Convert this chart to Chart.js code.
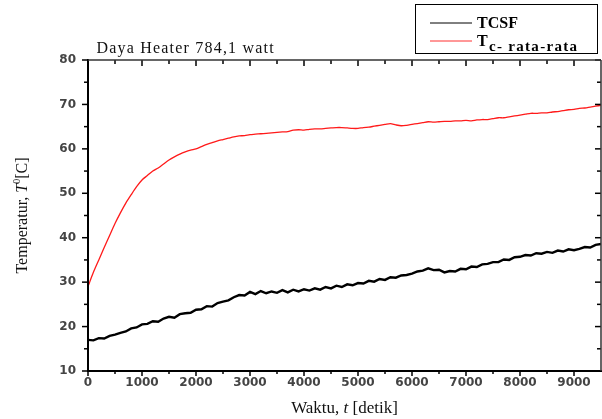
<!DOCTYPE html>
<html>
<head>
<meta charset="utf-8">
<script src="https://cdn.jsdelivr.net/npm/chart.js@4/dist/chart.umd.min.js"></script>
<style>
  html, body { margin: 0; padding: 0; background: #fff; overflow: hidden; }
  canvas { display: block; }
</style>
</head>
<body>
<canvas id="grafik" width="602" height="419"></canvas>
<script>
/* ── DATA ── */
const waktu = [
  0, 100, 200, 300, 400, 500, 600, 700, 800, 900,
  1000, 1100, 1200, 1300, 1400, 1500, 1600, 1700, 1800, 1900,
  2000, 2100, 2200, 2300, 2400, 2500, 2600, 2700, 2800, 2900,
  3000, 3100, 3200, 3300, 3400, 3500, 3600, 3700, 3800, 3900,
  4000, 4100, 4200, 4300, 4400, 4500, 4600, 4700, 4800, 4900,
  5000, 5100, 5200, 5300, 5400, 5500, 5600, 5700, 5800, 5900,
  6000, 6100, 6200, 6300, 6400, 6500, 6600, 6700, 6800, 6900,
  7000, 7100, 7200, 7300, 7400, 7500, 7600, 7700, 7800, 7900,
  8000, 8100, 8200, 8300, 8400, 8500, 8600, 8700, 8800, 8900,
  9000, 9100, 9200, 9300, 9400, 9500
];

const tcsf = [
  17.0, 16.9, 17.4, 17.3, 17.9, 18.2, 18.6, 18.9, 19.6, 19.8,
  20.5, 20.6, 21.2, 21.1, 21.8, 22.2, 22.0, 22.8, 23.0, 23.1,
  23.8, 23.9, 24.6, 24.5, 25.3, 25.6, 25.9, 26.6, 27.1, 27.0,
  27.8, 27.3, 28.0, 27.5, 27.9, 27.6, 28.2, 27.7, 28.3, 27.9,
  28.4, 28.1, 28.6, 28.3, 28.9, 28.6, 29.2, 28.9, 29.5, 29.3,
  29.8, 29.7, 30.3, 30.1, 30.7, 30.5, 31.1, 31.0, 31.5, 31.6,
  31.9, 32.4, 32.6, 33.1, 32.7, 32.8, 32.2, 32.5, 32.4, 33.0,
  32.9, 33.5, 33.4, 34.0, 34.1, 34.5, 34.5, 35.1, 35.0, 35.6,
  35.7, 36.1, 36.0, 36.5, 36.4, 36.8, 36.6, 37.1, 36.9, 37.4,
  37.2, 37.5, 37.9, 37.8, 38.4, 38.6
];

const tcRata = [
  29.0, 32.2, 35.0, 37.8, 40.5, 43.2, 45.6, 47.8, 49.7, 51.5,
  53.0, 54.0, 55.0, 55.7, 56.6, 57.5, 58.2, 58.8, 59.3, 59.7,
  60.0, 60.5, 61.0, 61.4, 61.8, 62.1, 62.4, 62.7, 62.9, 63.0,
  63.2, 63.3, 63.4, 63.5, 63.6, 63.7, 63.8, 63.9, 64.2, 64.3,
  64.2, 64.4, 64.5, 64.5, 64.6, 64.7, 64.8, 64.8, 64.7, 64.6,
  64.6, 64.8, 64.9, 65.1, 65.3, 65.5, 65.7, 65.4, 65.2, 65.3,
  65.5, 65.7, 65.9, 66.1, 66.0, 66.1, 66.2, 66.2, 66.3, 66.3,
  66.4, 66.3, 66.5, 66.6, 66.6, 66.8, 67.0, 67.0, 67.2, 67.4,
  67.6, 67.8, 68.0, 68.0, 68.1, 68.1, 68.3, 68.4, 68.6, 68.8,
  68.9, 69.1, 69.2, 69.4, 69.6, 69.8
];

const xTickUtama = [0, 1000, 2000, 3000, 4000, 5000, 6000, 7000, 8000, 9000];
const xTickKecil = [500, 1500, 2500, 3500, 4500, 5500, 6500, 7500, 8500];
const yTickUtama = [10, 20, 30, 40, 50, 60, 70, 80];
const yTickKecil = [15, 25, 35, 45, 55, 65, 75];

const judul = "Daya Heater 784,1 watt";
const labelSeri = ["TCSF", "T", "c- rata-rata"];

/* ── TEKS, BINGKAI, LEGENDA ── */
const SERIF = "'Liberation Serif', 'Times New Roman', serif";

const bingkai = {
  id: "bingkai",
  afterDraw(chart) {
    const { ctx, chartArea: a, scales: { x, y } } = chart;
    ctx.save();
    ctx.strokeStyle = "#000";
    const garis = (x1, y1, x2, y2) => {
      ctx.beginPath(); ctx.moveTo(x1, y1); ctx.lineTo(x2, y2); ctx.stroke();
    };

    // tick X (bawah keluar, atas ke dalam)
    ctx.lineWidth = 1.5;
    xTickUtama.forEach(v => {
      const px = x.getPixelForValue(v);
      garis(px, a.bottom, px, a.bottom + 5);
      garis(px, a.top, px, a.top + 6);
    });
    xTickKecil.forEach(v => {
      const px = x.getPixelForValue(v);
      garis(px, a.bottom, px, a.bottom + 3);
      garis(px, a.top, px, a.top + 4);
    });
    // tick Y (kiri keluar, kanan ke dalam)
    yTickUtama.forEach(v => {
      const py = y.getPixelForValue(v);
      garis(a.left - 6, py, a.left, py);
      garis(a.right - 6, py, a.right, py);
    });
    yTickKecil.forEach(v => {
      const py = y.getPixelForValue(v);
      garis(a.left - 4, py, a.left, py);
      garis(a.right - 4, py, a.right, py);
    });

    // garis sumbu
    ctx.lineWidth = 2;
    garis(a.left, a.top - 1, a.left, a.bottom + 1);
    garis(a.left - 1, a.bottom, a.right + 1, a.bottom);
    ctx.lineWidth = 1.5;
    ctx.strokeStyle = "#333";
    garis(a.left, a.top, a.right, a.top);
    garis(a.right, a.top, a.right, a.bottom);

    ctx.fillStyle = "#111";
    ctx.textBaseline = "alphabetic";

    // judul
    ctx.font = "16px " + SERIF;
    ctx.letterSpacing = "1.2px";
    ctx.textAlign = "left";
    ctx.fillText(judul, 96.5, 53);
    ctx.letterSpacing = "0px";

    // judul sumbu X: Waktu, t [detik]
    const tx = (a.left + a.right) / 2;
    const partsX = [["Waktu, ", ""], ["t", "italic "], [" [detik]", ""]];
    let wTot = 0;
    partsX.forEach(p => { ctx.font = p[1] + "17px " + SERIF; wTot += ctx.measureText(p[0]).width; });
    let cx = tx - wTot / 2;
    partsX.forEach(p => {
      ctx.font = p[1] + "17px " + SERIF;
      ctx.fillText(p[0], cx, 413);
      cx += ctx.measureText(p[0]).width;
    });

    // judul sumbu Y: Temperatur, T [0C]
    ctx.save();
    ctx.translate(27, (a.top + a.bottom) / 2);
    ctx.rotate(-Math.PI / 2);
    const partsY = [["Temperatur, ", "", 0, 16], ["T", "italic ", 0, 16], ["0", "", -7, 10], ["[C]", "", 0, 16]];
    wTot = 0;
    partsY.forEach(p => { ctx.font = p[1] + p[3] + "px " + SERIF; wTot += ctx.measureText(p[0]).width; });
    cx = -wTot / 2;
    partsY.forEach(p => {
      ctx.font = p[1] + p[3] + "px " + SERIF;
      ctx.fillText(p[0], cx, p[2]);
      cx += ctx.measureText(p[0]).width;
    });
    ctx.restore();

    // legenda
    ctx.lineWidth = 1;
    ctx.strokeStyle = "#000";
    ctx.strokeRect(415.5, 4.5, 182, 49);
    garis(430, 23, 472, 23);
    ctx.strokeStyle = "#ff3030";
    garis(430, 41, 472, 41);
    ctx.fillStyle = "#000";
    ctx.font = "bold 16px " + SERIF;
    ctx.fillText(labelSeri[0], 477, 28);
    ctx.fillText(labelSeri[1], 477, 46);
    ctx.font = "bold 15px " + SERIF;
    ctx.letterSpacing = "1.3px";
    ctx.fillText(labelSeri[2], 489, 51);
    ctx.letterSpacing = "0px";

    ctx.restore();
  }
};

/* ── GRAFIK ── */
const fontTick = { family: "'DejaVu Sans', sans-serif", size: 12, weight: "bold" };

new Chart(document.getElementById("grafik"), {
  type: "line",
  data: {
    datasets: [
      {
        label: labelSeri[0],
        data: waktu.map((t, i) => ({ x: t, y: tcsf[i] })),
        borderColor: "#000",
        borderWidth: 2.4,
        pointRadius: 0,
        tension: 0
      },
      {
        label: labelSeri[1] + labelSeri[2],
        data: waktu.map((t, i) => ({ x: t, y: tcRata[i] })),
        borderColor: "#ff1a1a",
        borderWidth: 1.3,
        pointRadius: 0,
        tension: 0.3
      }
    ]
  },
  options: {
    responsive: false,
    animation: false,
    layout: { padding: { top: 60, right: 1, left: 0, bottom: 0 } },
    plugins: { legend: { display: false }, tooltip: { enabled: false } },
    scales: {
      x: {
        type: "linear",
        min: 0,
        max: 9500,
        afterBuildTicks: s => { s.ticks = xTickUtama.map(v => ({ value: v })); },
        afterFit: s => { s.height = 48; },
        grid: { display: false, drawTicks: false },
        border: { display: false },
        ticks: { padding: 5, maxRotation: 0, autoSkip: false, font: fontTick, color: "#444", callback: v => String(v) }
      },
      y: {
        min: 10,
        max: 80,
        afterBuildTicks: s => { s.ticks = yTickUtama.map(v => ({ value: v })); },
        afterFit: s => { s.width = 88; },
        grid: { display: false, drawTicks: false },
        border: { display: false },
        ticks: { padding: 12, font: fontTick, color: "#444", callback: v => String(v) }
      }
    }
  },
  plugins: [bingkai]
});
</script>
</body>
</html>
